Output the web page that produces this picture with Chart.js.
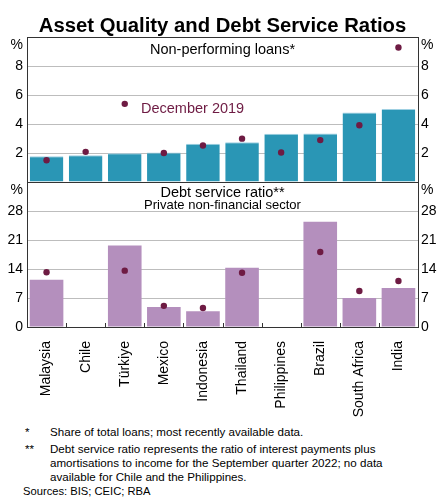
<!DOCTYPE html>
<html>
<head>
<meta charset="utf-8">
<script src="https://cdn.jsdelivr.net/npm/chart.js@4/dist/chart.umd.min.js"></script>
<style>
  body { margin: 0; background: #fff; font-family: 'Liberation Sans', Arial, sans-serif; color: #000; }
  #wrap { position: relative; width: 437px; height: 499px; overflow: hidden; }
  #title { position: absolute; left: 27px; width: 391px; top: 15px; line-height: 20px; text-align: center; font-weight: bold; font-size: 20.3px; white-space: nowrap; }
  #chart { position: absolute; left: 0; top: 0; }
  .note { position: absolute; font-size: 11.6px; line-height: 13.8px; white-space: nowrap; }
</style>
</head>
<body>
<div id="wrap">
  <canvas id="chart" width="437" height="420"></canvas>
  <div id="title">Asset Quality and Debt Service Ratios</div>
  <div class="note" style="left:25px; top:425px;">*</div>
  <div class="note" style="left:50px; top:425px;">Share of total loans; most recently available data.</div>
  <div class="note" style="left:25px; top:442px;">**</div>
  <div class="note" style="left:50px; top:442px;">Debt service ratio represents the ratio of interest payments plus<br>amortisations to income for the September quarter 2022; no data<br>available for Chile and the Philippines.</div>
  <div class="note" style="left:23px; top:485px; font-size:11.2px;">Sources: BIS; CEIC; RBA</div>
</div>
<script>
const countries = ['Malaysia', 'Chile', 'Türkiye', 'Mexico', 'Indonesia', 'Thailand', 'Philippines', 'Brazil', 'South Africa', 'India'];

// non-performing loans, % of total loans
const nplLatest = [1.78, 1.85, 1.99, 2.03, 2.64, 2.75, 3.33, 3.35, 4.79, 5.04];
const nplDec2019 = [1.5, 2.08, 5.39, 2.0, 2.52, 2.99, 2.03, 2.89, 3.91, 9.28];

// debt service ratio, private non-financial sector
const dsrLatest = [11.4, null, 19.7, 4.8, 3.8, 14.3, null, 25.4, 7.0, 9.4];
const dsrDec2019 = [13.2, null, 13.6, 5.1, 4.6, 13.1, null, 18.1, 8.7, 11.1];

const nplTicks = [0, 2, 4, 6, 8, 10];
const dsrTicks = [0, 7, 14, 21, 28, 35];

const teal = '#2a96b5';
const purple = '#b48fbd';
const maroon = '#6e1b43';
const frame = '#333';
const gridGrey = '#bdbdbd';

Chart.defaults.font.family = "'Liberation Sans', Arial, sans-serif";
Chart.defaults.color = '#000';

const tickFont = { size: 14 };

const yAxis = (ticks, position, stack, showGrid, hideVals) => ({
  type: 'linear',
  position: position,
  stack: stack,
  stackWeight: 1,
  min: ticks[0],
  max: ticks[ticks.length - 1],
  ticks: {
    stepSize: ticks[1] - ticks[0],
    autoSkip: false,
    font: tickFont,
    color: '#000',
    padding: position === 'left' ? 4 : 3,
    callback: v => hideVals.includes(v) ? '' : v
  },
  grid: {
    display: showGrid,
    drawTicks: false,
    color: ctx => {
      const v = ctx.tick && ctx.tick.value;
      if (v === ticks[0] || v === ticks[ticks.length - 1]) return frame;
      return gridGrey;
    }
  },
  border: { color: frame, width: 1 },
  afterFit: s => { s.width = position === 'left' ? 27 : 19; }
});

const decorations = {
  id: 'decorations',
  afterDraw(chart) {
    const { ctx, chartArea, scales } = chart;
    const top = scales.yTop, bot = scales.yBot, x = scales.x;
    const mid = (chartArea.left + chartArea.right) / 2;
    ctx.save();
    ctx.textBaseline = 'middle';
    ctx.fillStyle = '#000';
    ctx.font = "14px 'Liberation Sans'";
    ctx.textAlign = 'right';
    ctx.fillText('%', chartArea.left - 4, top.top + 8);
    ctx.fillText('%', chartArea.left - 4, bot.top + 8);
    ctx.textAlign = 'left';
    ctx.fillText('%', chartArea.right + 3, top.top + 8);
    ctx.fillText('%', chartArea.right + 3, bot.top + 8);

    ctx.textAlign = 'center';
    ctx.font = "14.5px 'Liberation Sans'";
    ctx.fillText('Non-performing loans*', mid, top.top + 13);
    ctx.fillText('Debt service ratio**', mid, bot.top + 10.5);
    ctx.font = "13px 'Liberation Sans'";
    ctx.fillText('Private non-financial sector', mid, bot.top + 23.5);

    ctx.textAlign = 'left';
    ctx.fillStyle = maroon;
    ctx.font = "14.5px 'Liberation Sans'";
    ctx.fillText('December 2019', 141, 109);

    // small category ticks on the bottom axis
    ctx.strokeStyle = frame;
    ctx.lineWidth = 1;
    for (let i = 1; i < countries.length; i++) {
      const xb = Math.round((x.getPixelForValue(i - 1) + x.getPixelForValue(i)) / 2) + 0.5;
      ctx.beginPath();
      ctx.moveTo(xb, bot.bottom);
      ctx.lineTo(xb, bot.bottom - 4);
      ctx.stroke();
    }
    ctx.restore();
  }
};

new Chart(document.getElementById('chart'), {
  type: 'bar',
  data: {
    labels: countries,
    datasets: [
      {
        label: 'Non-performing loans',
        data: nplLatest,
        yAxisID: 'yTop',
        backgroundColor: teal,
        borderColor: '#9fd0e2',
        borderWidth: { top: 1, left: 0, right: 0, bottom: 0 },
        borderSkipped: false,
        grouped: false,
        barPercentage: 0.86,
        categoryPercentage: 1,
        order: 2
      },
      {
        label: 'Debt service ratio',
        data: dsrLatest,
        yAxisID: 'yBot',
        backgroundColor: purple,
        grouped: false,
        barPercentage: 0.86,
        categoryPercentage: 1,
        order: 2
      },
      {
        type: 'line',
        label: 'NPL December 2019',
        data: nplDec2019,
        yAxisID: 'yTop',
        showLine: false,
        pointRadius: 3.2,
        pointBorderWidth: 0,
        pointBackgroundColor: maroon,
        pointBorderColor: maroon,
        order: 1
      },
      {
        type: 'line',
        label: 'DSR December 2019',
        data: dsrDec2019,
        yAxisID: 'yBot',
        showLine: false,
        pointRadius: 3.2,
        pointBorderWidth: 0,
        pointBackgroundColor: maroon,
        pointBorderColor: maroon,
        order: 1
      }
    ]
  },
  options: {
    responsive: false,
    animation: false,
    layout: { padding: { top: 37, left: 0, right: 0, bottom: 0 } },
    plugins: {
      legend: { display: false },
      tooltip: { enabled: false },
      title: { display: false }
    },
    scales: {
      x: {
        type: 'category',
        grid: { display: false },
        border: { color: frame, width: 1 },
        ticks: {
          autoSkip: false,
          maxRotation: 90,
          minRotation: 90,
          font: tickFont,
          color: '#000',
          padding: 6
        },
        afterFit: s => { s.height = 93; }
      },
      yBot: yAxis(dsrTicks, 'left', 'left', true, [35]),
      yTop: yAxis(nplTicks, 'left', 'left', true, [0, 10]),
      yTopR: yAxis(nplTicks, 'right', 'right', false, [0, 10]),
      yBotR: yAxis(dsrTicks, 'right', 'right', false, [35])
    }
  },
  plugins: [decorations]
});
</script>
</body>
</html>
